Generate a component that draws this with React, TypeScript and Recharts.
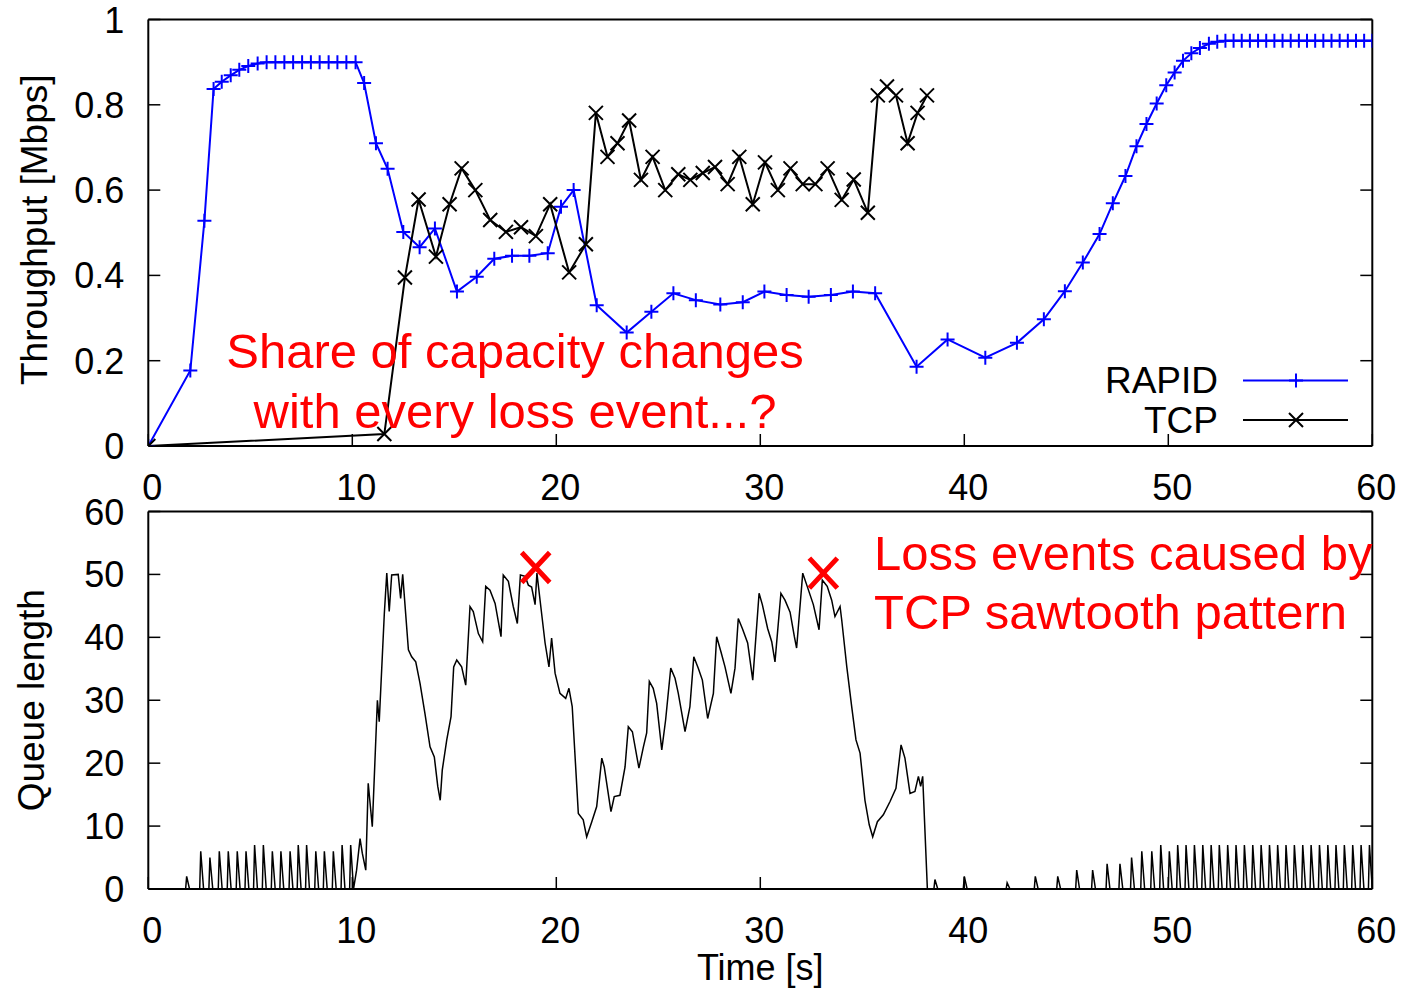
import { ComposedChart, Legend, Line, XAxis, YAxis } from "recharts";

// values: [time s, value]
const RAPID_THROUGHPUT: [number, number][] = [
  [0, 0], [2.06, 0.177], [2.75, 0.528], [3.2, 0.837], [3.6, 0.854], [4.04, 0.869], [4.46, 0.882],
  [4.9, 0.891], [5.36, 0.897], [5.8, 0.9], [6.23, 0.9], [6.67, 0.9], [7.1, 0.9], [7.54, 0.9],
  [7.97, 0.9], [8.4, 0.9], [8.84, 0.9], [9.27, 0.9], [9.71, 0.9], [10.16, 0.9], [10.58, 0.851],
  [11.16, 0.71], [11.73, 0.65], [12.5, 0.502], [13.3, 0.466], [14.05, 0.51], [15.13, 0.362],
  [16.1, 0.397], [16.96, 0.439], [17.83, 0.446], [18.68, 0.446], [19.58, 0.452], [20.23, 0.561],
  [20.85, 0.6], [21.98, 0.33], [23.45, 0.266], [24.66, 0.315], [25.74, 0.358], [26.84, 0.342],
  [28.04, 0.332], [29.14, 0.337], [30.2, 0.362], [31.29, 0.354], [32.37, 0.35], [33.46, 0.354],
  [34.54, 0.362], [35.63, 0.358], [37.66, 0.186], [39.18, 0.25], [41.03, 0.207], [42.58, 0.242],
  [43.9, 0.297], [44.93, 0.363], [45.81, 0.43], [46.63, 0.497], [47.28, 0.569], [47.9, 0.633],
  [48.44, 0.703], [48.93, 0.755], [49.43, 0.803], [49.9, 0.846], [50.31, 0.876], [50.72, 0.903],
  [51.13, 0.921], [51.55, 0.933], [51.99, 0.943], [52.4, 0.948], [52.8, 0.95], [53.2, 0.95],
  [53.6, 0.95], [54.0, 0.95], [54.4, 0.95], [54.8, 0.95], [55.2, 0.95], [55.6, 0.95], [56.0, 0.95],
  [56.4, 0.95], [56.8, 0.95], [57.2, 0.95], [57.6, 0.95], [58.0, 0.95], [58.4, 0.95], [58.8, 0.95],
  [59.2, 0.95], [59.6, 0.95], [60.0, 0.95],
];

const TCP_THROUGHPUT: [number, number][] = [
  [0, 0], [11.57, 0.028], [12.58, 0.395], [13.25, 0.578], [14.1, 0.444], [14.77, 0.567],
  [15.36, 0.651], [16.03, 0.6], [16.76, 0.53], [17.53, 0.502], [18.27, 0.513], [19.0, 0.492],
  [19.7, 0.567], [20.63, 0.407], [21.45, 0.473], [21.94, 0.781], [22.51, 0.678], [23.0, 0.71],
  [23.57, 0.763], [24.15, 0.624], [24.72, 0.678], [25.34, 0.6], [25.98, 0.637], [26.57, 0.624],
  [27.18, 0.64], [27.78, 0.654], [28.4, 0.614], [28.97, 0.678], [29.63, 0.567], [30.23, 0.665],
  [30.86, 0.6], [31.48, 0.651], [32.08, 0.614], [32.7, 0.614], [33.3, 0.651], [33.99, 0.577],
  [34.58, 0.625], [35.27, 0.547], [35.76, 0.822], [36.21, 0.843], [36.65, 0.822], [37.22, 0.71],
  [37.71, 0.781], [38.17, 0.822],
];

// queue spikes from the RAPID probe trains: [time, peak]
const QUEUE_SPIKES_START: [number, number][] = [
  [1.88, 2], [2.57, 6], [3.02, 5], [3.48, 6], [3.92, 6], [4.36, 6], [4.79, 6], [5.21, 7], [5.64, 7],
  [6.08, 6], [6.5, 6], [6.95, 6], [7.35, 7], [7.76, 7], [8.21, 6], [8.63, 6], [9.07, 6], [9.5, 7],
  [9.92, 7],
];

const QUEUE_BODY: [number, number][] = [
  [10.21, 3], [10.38, 8], [10.49, 5.7], [10.66, 3], [10.78, 16.8], [10.98, 9.9], [11.23, 30],
  [11.32, 26.6], [11.57, 43.8], [11.69, 50.2], [11.81, 44.1], [11.93, 49.9], [12.25, 50],
  [12.37, 46.2], [12.47, 50], [12.75, 38], [12.91, 36.9], [13.11, 36.1], [13.32, 32.7],
  [13.56, 27.9], [13.81, 22.6], [14.02, 21], [14.19, 16.3], [14.31, 14.1], [14.41, 18.9],
  [14.63, 23.7], [14.84, 27.4], [14.97, 35.3], [15.12, 36.4], [15.36, 35.3], [15.56, 32.4],
  [15.77, 44.9], [15.93, 44.1], [16.18, 40.6], [16.39, 39.3], [16.54, 48.1], [16.75, 47.5],
  [17.0, 45.4], [17.29, 40.1], [17.4, 49.9], [17.65, 48.9], [17.89, 44.9], [18.09, 42.2],
  [18.24, 49.9], [18.47, 49.7], [18.63, 48.3], [18.79, 48], [18.96, 45.2], [19.05, 50.2],
  [19.24, 44.9], [19.45, 39.1], [19.64, 35.3], [19.77, 39.9], [19.94, 34.3], [20.18, 31.1],
  [20.46, 30.3], [20.62, 31.9], [20.78, 29], [21.08, 12], [21.32, 11], [21.49, 8.3],
  [21.74, 10.7], [21.98, 13.1], [22.23, 20.8], [22.35, 19.4], [22.68, 12.3], [22.84, 14.7],
  [23.12, 14.9], [23.37, 19.4], [23.53, 25.8], [23.73, 25], [24.05, 19.2], [24.27, 22.6],
  [24.43, 24.8], [24.56, 33], [24.75, 31.9], [24.92, 29.5], [25.17, 22.1], [25.36, 26.9],
  [25.61, 35.1], [25.82, 33.5], [25.98, 31.1], [26.31, 25], [26.55, 29], [26.74, 36.9],
  [26.96, 35.1], [27.16, 33.2], [27.42, 27.1], [27.7, 31.1], [27.86, 40.1], [28.07, 37.7],
  [28.27, 35.3], [28.56, 31.1], [28.76, 35.1], [28.92, 43], [29.12, 41.4], [29.38, 39.1],
  [29.63, 33.2], [29.94, 47], [30.1, 45.2], [30.36, 41.4], [30.56, 39.3], [30.72, 36.1],
  [31.01, 47], [31.21, 45.9], [31.46, 44], [31.67, 40.1], [31.78, 38.3], [32.08, 50.2],
  [32.3, 48.1], [32.6, 45.2], [32.88, 41.2], [33.04, 49.1], [33.28, 48.1], [33.5, 45.9],
  [33.66, 43.3], [33.91, 44.9], [33.99, 42.8], [34.24, 35.3], [34.48, 29], [34.69, 23.7],
  [34.89, 21.6], [35.13, 14.1], [35.34, 10.2], [35.51, 8.3], [35.74, 10.7], [36.03, 11.8],
  [36.36, 13.9], [36.65, 16], [36.9, 22.9], [37.09, 20.8], [37.34, 15.2], [37.58, 15.5],
  [37.75, 17.9], [37.86, 16.3], [37.96, 17.9], [38.19, 0],
];

const QUEUE_SPIKES_END: [number, number][] = [
  [38.56, 1.5], [40.0, 2], [42.1, 1], [43.48, 2], [44.58, 2], [45.51, 3], [46.29, 3], [47.0, 4],
  [47.63, 4], [48.2, 5], [48.7, 6], [49.19, 6], [49.63, 7], [50.05, 6], [50.46, 7], [50.87, 7],
  [51.28, 7], [51.69, 7], [52.1, 7], [52.5, 7], [52.91, 7], [53.32, 7], [53.73, 7], [54.14, 7],
  [54.55, 7], [54.96, 7], [55.36, 7], [55.77, 7], [56.18, 7], [56.59, 7], [57.0, 7], [57.41, 7],
  [57.82, 7], [58.22, 7], [58.63, 7], [59.04, 7], [59.45, 7], [59.86, 7],
];

const LOSS_EVENTS: [number, number][] = [[18.99, 51.1], [33.09, 50.2]];

const TIME_TICKS = [0, 10, 20, 30, 40, 50, 60];
const THROUGHPUT_TICKS = [0, 0.2, 0.4, 0.6, 0.8, 1];
const QUEUE_TICKS = [0, 10, 20, 30, 40, 50, 60];

const FONT = '"Liberation Sans", Arial, Helvetica, sans-serif';
const TICK = 12;

const toPoints = (rows: [number, number][]) => rows.map(([t, v]) => ({ t, v }));

// each probe spike: sharp rise, short drain back to empty
const spikes = (rows: [number, number][]) =>
  rows.flatMap(([t, q]) => [[t - 0.05, 0], [t, q], [t + 0.14, 0]] as [number, number][]);

const rapidData = toPoints(RAPID_THROUGHPUT);
const tcpData = toPoints(TCP_THROUGHPUT);
const queueData = toPoints([[0, 0], ...spikes(QUEUE_SPIKES_START), ...QUEUE_BODY, ...spikes(QUEUE_SPIKES_END)]);
const lossData = toPoints(LOSS_EVENTS);

const BottomTick = (props: any) => {
  const { x, y, payload } = props;
  return (
    <g>
      <line x1={x} y1={y} x2={x} y2={y - TICK} stroke="#000" strokeWidth={1.5} />
      <text x={x + 4} y={y + 54} textAnchor="middle" fontSize={36} fontFamily={FONT} fill="#000">
        {payload.value}
      </text>
    </g>
  );
};

const TopTick = (props: any) => (
  <line x1={props.x} y1={props.y} x2={props.x} y2={props.y + TICK} stroke="#000" strokeWidth={1.5} />
);

const LeftTick = (props: any) => {
  const { x, y, payload } = props;
  return (
    <g>
      <line x1={x} y1={y} x2={x + TICK} y2={y} stroke="#000" strokeWidth={1.5} />
      <text x={x - 24} y={y + 13} textAnchor="end" fontSize={36} fontFamily={FONT} fill="#000">
        {payload.value}
      </text>
    </g>
  );
};

const RightTick = (props: any) => (
  <line x1={props.x} y1={props.y} x2={props.x - TICK} y2={props.y} stroke="#000" strokeWidth={1.5} />
);

const YTitle = (props: any) => {
  const { viewBox, text, dx, dy } = props;
  const x = viewBox.x + dx;
  const y = viewBox.y + viewBox.height / 2 + dy;
  return (
    <text x={x} y={y} transform={`rotate(-90 ${x} ${y})`} textAnchor="middle" fontSize={37} fontFamily={FONT} fill="#000">
      {text}
    </text>
  );
};

const XTitle = (props: any) => {
  const { viewBox, text } = props;
  return (
    <text x={viewBox.x + viewBox.width / 2} y={viewBox.y + 91} textAnchor="middle" fontSize={36} fontFamily={FONT} fill="#000">
      {text}
    </text>
  );
};

const PlusDot = (props: any) => {
  const { cx, cy, stroke, index } = props;
  if (cx == null || cy == null) return <g key={index} />;
  return <path key={index} d={`M${cx - 7},${cy}H${cx + 7}M${cx},${cy - 7}V${cy + 7}`} stroke={stroke} strokeWidth={2} fill="none" />;
};

const CrossDot = (props: any) => {
  const { cx, cy, stroke, index } = props;
  if (cx == null || cy == null) return <g key={index} />;
  return (
    <path key={index} d={`M${cx - 7},${cy - 7}L${cx + 7},${cy + 7}M${cx - 7},${cy + 7}L${cx + 7},${cy - 7}`} stroke={stroke} strokeWidth={2} fill="none" />
  );
};

const LossMark = (props: any) => {
  const { cx, cy, index } = props;
  if (cx == null || cy == null) return <g key={index} />;
  return (
    <path key={index} d={`M${cx - 14},${cy - 15}L${cx + 14},${cy + 15}M${cx - 14},${cy + 15}L${cx + 14},${cy - 15}`} stroke="#ff0000" strokeWidth={5} fill="none" />
  );
};

const renderLegend = (props: any) => {
  const entries = props.payload || [];
  return (
    <svg width={300} height={95}>
      {entries.map((entry: any, i: number) => {
        const base = 43 + i * 39.5;
        const ly = base - 12.5;
        return (
          <g key={entry.value}>
            <text x={148} y={base} textAnchor="end" fontSize={37} fontFamily={FONT} fill="#000">
              {entry.value}
            </text>
            <line x1={173} y1={ly} x2={278} y2={ly} stroke={entry.color} strokeWidth={2} />
            {i === 0 ? (
              <path d={`M${219},${ly}H${233}M${226},${ly - 7}V${ly + 7}`} stroke={entry.color} strokeWidth={2} />
            ) : (
              <path d={`M${219},${ly - 7}L${233},${ly + 7}M${219},${ly + 7}L${233},${ly - 7}`} stroke={entry.color} strokeWidth={2} />
            )}
          </g>
        );
      })}
    </svg>
  );
};

const axisLine = { stroke: "#000", strokeWidth: 2 };

export default function App() {
  return (
    <div style={{ position: "absolute", left: 0, top: 0, width: 1401, height: 989, background: "#fff" }}>
      <div style={{ position: "absolute", left: 0, top: 0 }}>
        <ComposedChart width={1401} height={510} margin={{ top: 18.5, right: 27.7, bottom: 63, left: 147.3 }}>
          <XAxis dataKey="t" type="number" domain={[0, 60]} ticks={TIME_TICKS} interval={0} height={1} tickSize={0} tickMargin={0} tickLine={false} axisLine={axisLine} tick={<BottomTick />} allowDataOverflow />
          <XAxis xAxisId="top" orientation="top" type="number" domain={[0, 60]} ticks={TIME_TICKS} interval={0} height={1} tickSize={0} tickMargin={0} tickLine={false} axisLine={axisLine} tick={<TopTick />} allowDataOverflow />
          <YAxis type="number" domain={[0, 1]} ticks={THROUGHPUT_TICKS} interval={0} width={1} tickSize={0} tickMargin={0} tickLine={false} axisLine={axisLine} tick={<LeftTick />} allowDataOverflow label={<YTitle text="Throughput [Mbps]" dx={-100} dy={-3} />} />
          <YAxis yAxisId="right" orientation="right" type="number" domain={[0, 1]} ticks={THROUGHPUT_TICKS} interval={0} width={1} tickSize={0} tickMargin={0} tickLine={false} axisLine={axisLine} tick={<RightTick />} allowDataOverflow />
          <Line data={rapidData} dataKey="v" name="RAPID" type="linear" stroke="#0000ff" strokeWidth={2} dot={PlusDot} activeDot={false} isAnimationActive={false} />
          <Line data={tcpData} dataKey="v" name="TCP" type="linear" stroke="#000000" strokeWidth={2} dot={CrossDot} activeDot={false} isAnimationActive={false} />
          <Legend layout="vertical" align="center" verticalAlign="middle" content={renderLegend} wrapperStyle={{ position: "absolute", left: 1070, top: 350, width: 300, height: 95 }} />
        </ComposedChart>
      </div>
      <div style={{ position: "absolute", left: 0, top: 480 }}>
        <ComposedChart width={1401} height={509} margin={{ top: 30.5, right: 27.7, bottom: 99, left: 147.3 }}>
          <XAxis dataKey="t" type="number" domain={[0, 60]} ticks={TIME_TICKS} interval={0} height={1} tickSize={0} tickMargin={0} tickLine={false} axisLine={axisLine} tick={<BottomTick />} allowDataOverflow label={<XTitle text="Time [s]" />} />
          <XAxis xAxisId="top" orientation="top" type="number" domain={[0, 60]} ticks={TIME_TICKS} interval={0} height={1} tickSize={0} tickMargin={0} tickLine={false} axisLine={axisLine} tick={<TopTick />} allowDataOverflow />
          <YAxis type="number" domain={[0, 60]} ticks={QUEUE_TICKS} interval={0} width={1} tickSize={0} tickMargin={0} tickLine={false} axisLine={axisLine} tick={<LeftTick />} allowDataOverflow label={<YTitle text="Queue length" dx={-103} dy={0} />} />
          <YAxis yAxisId="right" orientation="right" type="number" domain={[0, 60]} ticks={QUEUE_TICKS} interval={0} width={1} tickSize={0} tickMargin={0} tickLine={false} axisLine={axisLine} tick={<RightTick />} allowDataOverflow />
          <Line data={queueData} dataKey="v" name="Queue" type="linear" stroke="#000" strokeWidth={1.5} dot={false} activeDot={false} isAnimationActive={false} />
          <Line data={lossData} dataKey="v" name="Loss" type="linear" stroke="none" dot={LossMark} activeDot={false} isAnimationActive={false} />
        </ComposedChart>
      </div>
      <svg width={1401} height={989} style={{ position: "absolute", left: 0, top: 0, pointerEvents: "none" }}>
        <g fontFamily={FONT} fontSize={49} fill="#ff0000">
          <text x={515} y={368} textAnchor="middle">Share of capacity changes</text>
          <text x={515} y={428} textAnchor="middle">with every loss event...?</text>
          <text x={874} y={570}>Loss events caused by</text>
          <text x={874} y={629}>TCP sawtooth pattern</text>
        </g>
      </svg>
    </div>
  );
}
